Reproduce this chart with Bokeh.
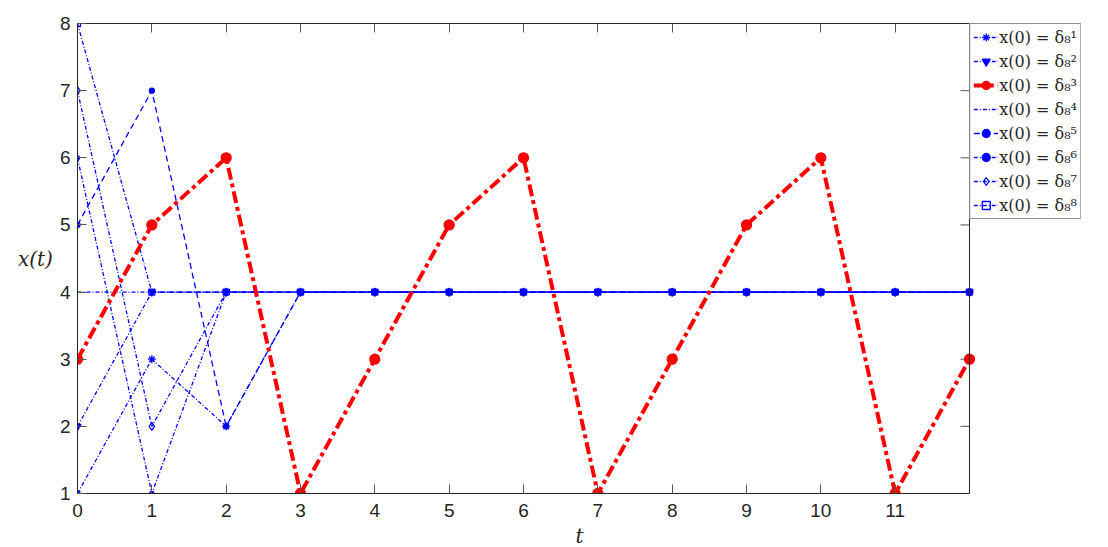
import math
from bokeh.plotting import figure
from bokeh.models import LinearAxis, FixedTicker, Legend, LegendItem, Span
from bokeh.embed import file_html
from bokeh.resources import INLINE

t = [0, 1, 2, 3, 4, 5, 6, 7, 8, 9, 10, 11, 12]
x1 = [1, 3, 2, 4, 4, 4, 4, 4, 4, 4, 4, 4, 4]
x2 = [2, 4, 4, 4, 4, 4, 4, 4, 4, 4, 4, 4, 4]
x3 = [3, 5, 6, 1, 3, 5, 6, 1, 3, 5, 6, 1, 3]
x4 = [4, 4, 4, 4, 4, 4, 4, 4, 4, 4, 4, 4, 4]
x5 = [5, 7, 2, 4, 4, 4, 4, 4, 4, 4, 4, 4, 4]
x6 = [6, 1, 4, 4, 4, 4, 4, 4, 4, 4, 4, 4, 4]
x7 = [7, 2, 4, 4, 4, 4, 4, 4, 4, 4, 4, 4, 4]
x8 = [8, 4, 4, 4, 4, 4, 4, 4, 4, 4, 4, 4, 4]
series = [x1, x2, x3, x4, x5, x6, x7, x8]
labels = ["x(0) = δ₈¹", "x(0) = δ₈²", "x(0) = δ₈³", "x(0) = δ₈⁴",
          "x(0) = δ₈⁵", "x(0) = δ₈⁶", "x(0) = δ₈⁷", "x(0) = δ₈⁸"]
x_ticks = [0, 1, 2, 3, 4, 5, 6, 7, 8, 9, 10, 11]
y_ticks = [1, 2, 3, 4, 5, 6, 7, 8]
T_END = 12

BLUE = "#0000ff"
RED = "#ff0000"
styles = [
    dict(color=BLUE, width=1.3, dash="4 2 1 2", marker="asterisk", size=8, fill=BLUE),
    dict(color=BLUE, width=1.3, dash="4 2 1 2", marker="inverted_triangle", size=7, fill=BLUE),
    dict(color=RED, width=4, dash="12 4 4 4", marker="circle", size=10, fill=RED),
    dict(color=BLUE, width=1.3, dash="4 2 1 2", marker=None, size=0, fill=BLUE),
    dict(color=BLUE, width=1.3, dash="6 4", marker="circle", size=5, fill=BLUE),
    dict(color=BLUE, width=1.3, dash="4 2 1 2", marker="circle", size=4, fill=BLUE),
    dict(color=BLUE, width=1.3, dash="4 2 1 2", marker="diamond", size=8, fill=None),
    dict(color=BLUE, width=1.3, dash="4 2 1 2", marker="square", size=6, fill=None),
]

# the plot box is 892 px wide; the frame is widened to 1004 px so that the legend
# (which sits right of the box) lies inside the drawable frame
BOX_W, FW, FH = 892, 1004, 470
X_MAX = T_END * FW / BOX_W

p = figure(frame_width=FW, frame_height=FH, x_range=(0, X_MAX), y_range=(1, 8),
           output_backend="svg", toolbar_location=None,
           min_border_left=77, min_border_right=0, min_border_top=23, min_border_bottom=10)
p.grid.visible = False
p.outline_line_color = None
p.background_fill_color = "white"
p.border_fill_color = "white"

AX = "#262626"
TICK = "#555555"

def style_axis(ax, ticks, show_labels):
    ax.ticker = FixedTicker(ticks=ticks)
    ax.major_tick_in = 9
    ax.major_tick_out = 0
    ax.minor_tick_line_color = None
    ax.axis_line_color = AX
    ax.major_tick_line_color = TICK
    ax.major_label_text_font = "Liberation Sans"
    if show_labels:
        ax.major_label_text_color = AX
        ax.major_label_text_font_size = "19px"
    else:
        ax.major_label_text_color = None
        ax.major_label_text_font_size = "1px"

xa = p.xaxis[0]
style_axis(xa, x_ticks, True)
xa.bounds = (0, T_END)
xa.major_label_standoff = 10
xa.axis_label = "t"
xa.axis_label_text_font = "DejaVu Serif"
xa.axis_label_text_font_style = "italic"
xa.axis_label_text_font_size = "20px"
xa.axis_label_text_color = AX
xa.axis_label_standoff = 4

ya = p.yaxis[0]
style_axis(ya, y_ticks, True)
ya.major_label_standoff = 7
ya.axis_label = "x(t)"
ya.axis_label_orientation = "horizontal"
ya.axis_label_text_font = "DejaVu Serif"
ya.axis_label_text_font_style = "italic"
ya.axis_label_text_font_size = "20px"
ya.axis_label_text_color = AX
ya.axis_label_standoff = 4

top = LinearAxis()
style_axis(top, x_ticks, False)
top.bounds = (0, T_END)
top.major_label_standoff = 0
p.add_layout(top, "above")

# right edge of the box and its inward ticks
p.add_layout(Span(location=T_END, dimension="height", line_color=AX, line_width=1))
p.ray(x=[T_END] * len(y_ticks), y=y_ticks, length=9, length_units="screen",
      angle=math.pi, line_color=TICK, line_width=1)

renderers = []
for s, st in zip(series, styles):
    rs = []
    rs.append(p.line(t, s, line_color=st["color"], line_width=st["width"], line_dash=st["dash"]))
    if st["marker"] is not None:
        rs.append(p.scatter(t, s, marker=st["marker"], size=st["size"], line_color=st["color"],
                            fill_color=st["fill"], line_width=1.3))
    renderers.append(rs)

# bring red series to front
red_idx = 2
for r in renderers[red_idx]:
    p.renderers.remove(r)
    p.renderers.append(r)

items = [LegendItem(label=lab, renderers=rs) for lab, rs in zip(labels, renderers)]
legend = Legend(items=items, location="top_right", margin=0, padding=3, spacing=4,
                glyph_width=25, glyph_height=20, label_height=20, label_standoff=1,
                label_text_font="DejaVu Serif", label_text_font_size="16px",
                label_text_color=AX, border_line_color=AX, border_line_width=1,
                background_fill_color="white", background_fill_alpha=1)
p.add_layout(legend, "center")

open("out.html", "w").write(file_html(p, INLINE))
